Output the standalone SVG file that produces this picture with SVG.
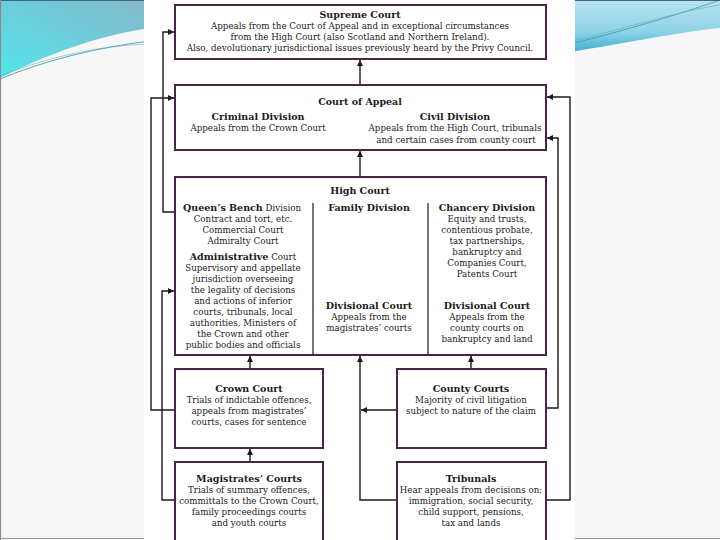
<svg xmlns="http://www.w3.org/2000/svg" width="720" height="540" viewBox="0 0 720 540">
<defs>
<linearGradient id="gl" x1="1" y1="0" x2="0" y2="1">
<stop offset="0" stop-color="#86b6c9"/>
<stop offset="1" stop-color="#52e6ec"/>
</linearGradient>
<linearGradient id="gr" x1="0" y1="0" x2="0" y2="1">
<stop offset="0" stop-color="#b9e3ee"/>
<stop offset="0.6" stop-color="#8fd3e6"/>
<stop offset="1" stop-color="#3fb0d2"/>
</linearGradient>
<marker id="ah" viewBox="0 0 10 10" refX="10" refY="5" markerWidth="6" markerHeight="6" markerUnits="userSpaceOnUse" orient="auto">
<path d="M0,0 L10,5 L0,10 Z" fill="#1a1a1a"/>
</marker>
<style>
.box{fill:#ffffff;stroke:#4a2545;stroke-width:2}
.div{stroke:#1a1a1a;stroke-width:1.2}
.t{font-family:"DejaVu Serif","Liberation Serif",serif;font-size:8.7px;fill:#1a1a1a;text-anchor:middle}
.b{font-weight:bold;font-size:9.5px}
.c{fill:none;stroke:#1a1a1a;stroke-width:1.4}
.ca{fill:none;stroke:#1a1a1a;stroke-width:1.4;marker-end:url(#ah)}
</style>
</defs>
<rect x="0" y="0" width="720" height="540" fill="#f7f7f7"/>
<path d="M0,0 H150 V28 C100,35 45,55 0,78 Z" fill="url(#gl)"/>
<path d="M0,79 C45,60 100,47 150,41" fill="none" stroke="#3a8ea4" stroke-width="0.8"/>
<path d="M0,76 C45,58 100,45 150,44" fill="none" stroke="#5aaec0" stroke-width="0.6"/>
<path d="M570,0 H720 V28 C680,32 620,44 570,52 Z" fill="url(#gr)"/>
<path d="M570,44 C620,32 680,14 720,0" fill="none" stroke="#3a8ea4" stroke-width="0.7"/>
<path d="M570,42 C625,28 685,10 720,5" fill="none" stroke="#5aaec0" stroke-width="0.6"/>
<line x1="0" y1="0.5" x2="720" y2="0.5" stroke="#3a6a80" stroke-width="1"/>
<line x1="0.5" y1="0" x2="0.5" y2="540" stroke="#8a8a8a" stroke-width="1.2"/>
<line x1="0" y1="538.5" x2="720" y2="538.5" stroke="#9a9a9a" stroke-width="1"/>
<rect x="144" y="0" width="431" height="540" fill="#ffffff"/>

<g id="connectors">
<path class="ca" d="M360,85 V60"/>
<path class="ca" d="M360,177 V151"/>
<path class="ca" d="M175,212 H163 V32 H174"/>
<path class="ca" d="M175,410 H151 V98 H174"/>
<path class="ca" d="M175,500 H162 V291 H174"/>
<path class="ca" d="M250,462 V449"/>
<path class="ca" d="M250,369 V356"/>
<path class="ca" d="M471,369 V356"/>
<path class="ca" d="M546,408 H558 V138 H547"/>
<path class="ca" d="M546,500 H570 V97 H547"/>
<path class="ca" d="M397,500 H360 V356"/>
<path class="ca" d="M397,410 H361"/>
</g>

<g id="supreme-court">
<rect class="box" x="175" y="5" width="371" height="54"/>
<text class="t b" x="360" y="18">Supreme Court</text>
<text class="t" x="360" y="29">Appeals from the Court of Appeal and in exceptional circumstances</text>
<text class="t" x="360" y="40">from the High Court (also Scotland and Northern Ireland).</text>
<text class="t" x="360" y="51">Also, devolutionary jurisdictional issues previously heard by the Privy Council.</text>
</g>

<g id="court-of-appeal">
<rect class="box" x="175" y="85" width="371" height="65"/>
<text class="t b" x="360" y="105">Court of Appeal</text>
<text class="t b" x="258" y="120">Criminal Division</text>
<text class="t" x="258" y="131">Appeals from the Crown Court</text>
<text class="t b" x="455" y="120">Civil Division</text>
<text class="t" x="455" y="131">Appeals from the High Court, tribunals</text>
<text class="t" x="456" y="143">and certain cases from county court</text>
</g>

<g id="high-court">
<rect class="box" x="175" y="177" width="371" height="178"/>
<line class="div" x1="313" y1="203" x2="313" y2="355"/>
<line class="div" x1="428" y1="203" x2="428" y2="355"/>
<text class="t b" x="360" y="194">High Court</text>
<text class="t" x="242" y="211"><tspan font-weight="bold" font-size="9.5px">Queen’s Bench</tspan> Division</text>
<text class="t" x="243" y="222">Contract and tort, etc.</text>
<text class="t" x="243" y="233">Commercial Court</text>
<text class="t" x="243" y="244">Admiralty Court</text>
<text class="t" x="243" y="260"><tspan font-weight="bold" font-size="9.5px">Administrative</tspan> Court</text>
<text class="t" x="243" y="271">Supervisory and appellate</text>
<text class="t" x="243" y="282">jurisdiction overseeing</text>
<text class="t" x="243" y="293">the legality of decisions</text>
<text class="t" x="243" y="304">and actions of inferior</text>
<text class="t" x="243" y="315">courts, tribunals, local</text>
<text class="t" x="243" y="326">authorities, Ministers of</text>
<text class="t" x="243" y="337">the Crown and other</text>
<text class="t" x="243" y="348">public bodies and officials</text>
<text class="t b" x="369" y="211">Family Division</text>
<text class="t b" x="369" y="309">Divisional Court</text>
<text class="t" x="369" y="320">Appeals from the</text>
<text class="t" x="369" y="331">magistrates’ courts</text>
<text class="t b" x="487" y="211">Chancery Division</text>
<text class="t" x="487" y="222">Equity and trusts,</text>
<text class="t" x="487" y="233">contentious probate,</text>
<text class="t" x="487" y="244">tax partnerships,</text>
<text class="t" x="487" y="255">bankruptcy and</text>
<text class="t" x="487" y="266">Companies Court,</text>
<text class="t" x="487" y="277">Patents Court</text>
<text class="t b" x="487" y="309">Divisional Court</text>
<text class="t" x="487" y="320">Appeals from the</text>
<text class="t" x="487" y="331">county courts on</text>
<text class="t" x="487" y="342">bankruptcy and land</text>
</g>

<g id="crown-court">
<rect class="box" x="175" y="369" width="148" height="79"/>
<text class="t b" x="249" y="392">Crown Court</text>
<text class="t" x="249" y="403">Trials of indictable offences,</text>
<text class="t" x="249" y="414">appeals from magistrates’</text>
<text class="t" x="249" y="425">courts, cases for sentence</text>
</g>

<g id="county-courts">
<rect class="box" x="397" y="369" width="149" height="79"/>
<text class="t b" x="471" y="392">County Courts</text>
<text class="t" x="471" y="403">Majority of civil litigation</text>
<text class="t" x="471" y="414">subject to nature of the claim</text>
</g>

<g id="magistrates-courts">
<rect class="box" x="175" y="462" width="148" height="90"/>
<text class="t b" x="249" y="482">Magistrates’ Courts</text>
<text class="t" x="249" y="493">Trials of summary offences,</text>
<text class="t" x="249" y="504">committals to the Crown Court,</text>
<text class="t" x="249" y="515">family proceedings courts</text>
<text class="t" x="249" y="526">and youth courts</text>
</g>

<g id="tribunals">
<rect class="box" x="397" y="462" width="149" height="90"/>
<text class="t b" x="471" y="482">Tribunals</text>
<text class="t" x="471" y="493">Hear appeals from decisions on:</text>
<text class="t" x="471" y="504">immigration, social security,</text>
<text class="t" x="471" y="515">child support, pensions,</text>
<text class="t" x="471" y="526">tax and lands</text>
</g>
</svg>
